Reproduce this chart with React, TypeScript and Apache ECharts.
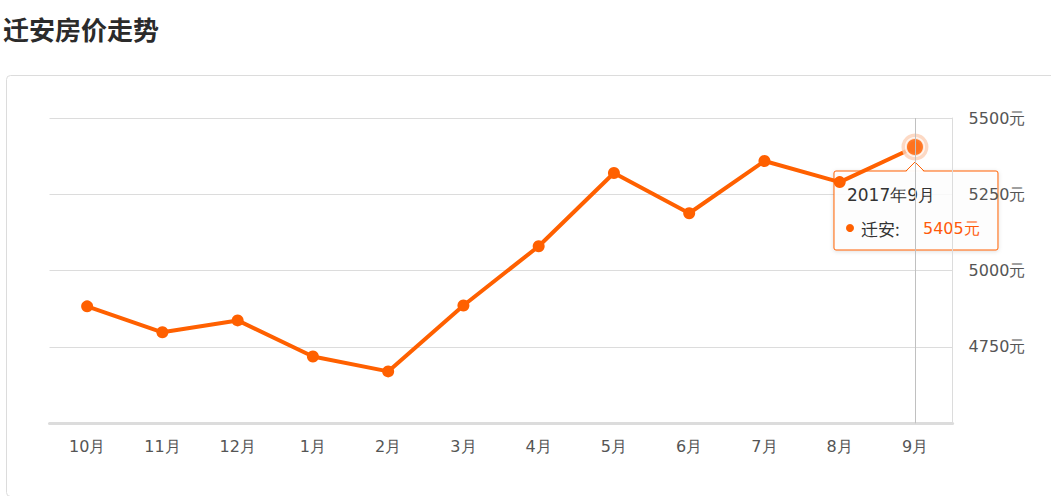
import React, { useEffect, useRef } from "react";
import * as echarts from "echarts";

const title = "迁安房价走势";
const seriesName = "迁安";
const months = ["10月", "11月", "12月", "1月", "2月", "3月", "4月", "5月", "6月", "7月", "8月", "9月"];
const prices = [4883, 4798, 4837, 4719, 4670, 4886, 5080, 5320, 5188, 5359, 5290, 5405];
const highlightIndex = 11;
const tooltipTitle = "2017年9月";
const yMin = 4500;
const yMax = 5500;
const yStep = 250;

const ORANGE = "#ff6000";
const FONT = "DejaVu Sans, sans-serif";

export default function App() {
  const ref = useRef<HTMLDivElement>(null);
  useEffect(() => {
    if (!ref.current) return;
    const chart = echarts.init(ref.current, null, { renderer: "svg" });
    const hiMonth = months[highlightIndex];
    const hiValue = prices[highlightIndex];
    chart.setOption({
      animation: false,
      backgroundColor: "#fff",
      title: {
        text: title,
        left: 3,
        top: 15,
        padding: 0,
        textStyle: { fontSize: 26, fontWeight: "bold", color: "#2b2b2b", fontFamily: "Noto Sans CJK SC" },
      },
      grid: { left: 49.5, right: 98.4, top: 118, bottom: 72.7 },
      xAxis: {
        type: "category",
        data: months,
        boundaryGap: true,
        axisLine: { lineStyle: { color: "#dcdcdc", width: 3 } },
        axisTick: { alignWithLabel: true, length: 4, lineStyle: { color: "#dcdcdc" } },
        axisLabel: { color: "#555", fontSize: 16, fontFamily: FONT, margin: 15 },
        splitLine: { show: false },
      },
      yAxis: {
        type: "value",
        position: "right",
        min: yMin,
        max: yMax,
        interval: yStep,
        axisLine: { show: true, lineStyle: { color: "#dcdcdc", width: 1 } },
        axisTick: { show: false },
        axisLabel: {
          color: "#555",
          fontSize: 16,
          fontFamily: FONT,
          margin: 16,
          showMinLabel: false,
          formatter: (v: number) => v + "元",
        },
        splitLine: { lineStyle: { color: "#dcdcdc", width: 1 } },
      },
      series: [
        {
          name: seriesName,
          type: "line",
          data: prices,
          symbol: "circle",
          symbolSize: 12,
          itemStyle: { color: ORANGE },
          lineStyle: { color: ORANGE, width: 4 },
          markLine: {
            silent: true,
            symbol: "none",
            label: { show: false },
            lineStyle: { color: "#c0c0c0", type: "solid", width: 1 },
            data: [{ xAxis: hiMonth }],
          },
          z: 2,
        },
        {
          name: "halo",
          type: "scatter",
          data: [[hiMonth, hiValue]],
          symbol: "circle",
          symbolSize: 27,
          itemStyle: { color: "#fdd0b5" },
          z: 3,
        },
        {
          name: "hi",
          type: "scatter",
          data: [[hiMonth, hiValue]],
          symbol: "circle",
          symbolSize: 18,
          itemStyle: { color: ORANGE, borderColor: "#fff", borderWidth: 2 },
          z: 4,
        },
      ],
    });

    const [px, py] = chart.convertToPixel({ gridIndex: 0 }, [hiMonth, hiValue]) as number[];
    const boxW = 164;
    const boxH = 79;
    const bx = px - 81;
    const by = py + 24;
    chart.setOption({
      graphic: [
        {
          type: "rect",
          left: 4,
          top: 73,
          shape: { width: 1060, height: 421, r: 4 },
          style: { fill: "none", stroke: "#dcdcdc", lineWidth: 1 },
          z: -1,
          silent: true,
        },
        {
          type: "group",
          z: 100,
          children: [
            {
              type: "rect",
              x: bx,
              y: by,
              shape: { width: boxW, height: boxH, r: 2 },
              style: {
                fill: "rgba(255,255,255,0.85)",
                stroke: ORANGE,
                lineWidth: 1,
                shadowBlur: 4,
                shadowColor: "rgba(0,0,0,0.15)",
                shadowOffsetY: 1,
              },
            },
            {
              type: "polygon",
              shape: { points: [[px - 9, by + 1], [px, by - 9], [px + 9, by + 1]] },
              style: { fill: "rgba(255,255,255,0.95)", stroke: "none" },
            },
            {
              type: "polyline",
              shape: { points: [[px - 9, by], [px, by - 9], [px + 9, by]] },
              style: { stroke: ORANGE, lineWidth: 1, fill: "none" },
            },
            {
              type: "text",
              x: bx + 13,
              y: by + 24,
              style: {
                text: tooltipTitle,
                fill: "#333",
                fontSize: 17,
                fontFamily: FONT,
                verticalAlign: "middle",
              },
            },
            {
              type: "circle",
              shape: { cx: bx + 16, cy: by + 57, r: 4 },
              style: { fill: ORANGE },
            },
            {
              type: "text",
              x: bx + 27,
              y: by + 57,
              style: {
                text: seriesName + ":",
                fill: "#333",
                fontSize: 17,
                fontFamily: "Noto Sans CJK SC",
                verticalAlign: "middle",
              },
            },
            {
              type: "text",
              x: bx + 89,
              y: by + 57,
              style: {
                text: hiValue + "元",
                fill: "#ff5a0a",
                fontSize: 16,
                fontFamily: FONT,
                verticalAlign: "middle",
              },
            },
          ],
        },
      ],
    });
    return () => chart.dispose();
  }, []);
  return (
    <div
      ref={ref}
      style={{ position: "absolute", left: 0, top: 0, width: 1051, height: 496 }}
    />
  );
}
